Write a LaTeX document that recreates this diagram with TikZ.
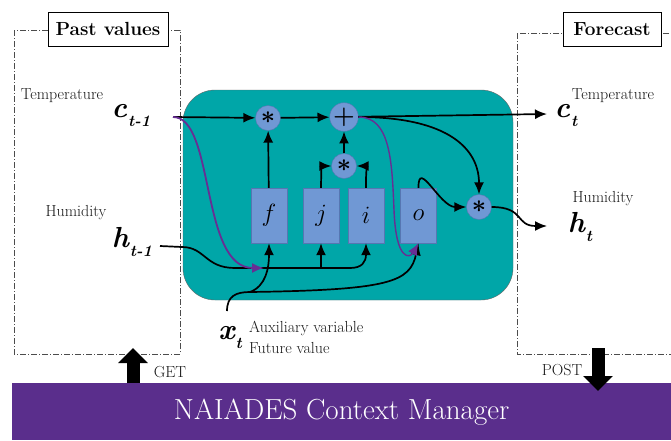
\documentclass[tikz,border=0pt]{standalone}
\usepackage{color}
\usepackage{tikz}
\usepackage{amssymb}
\usetikzlibrary{arrows.meta}

\definecolor{cellteal}{RGB}{0,166,168}
\definecolor{gateblue}{RGB}{112,152,212}
\definecolor{gateedge}{RGB}{86,118,178}
\definecolor{peepviolet}{RGB}{104,46,148}
\definecolor{barpurple}{RGB}{90,46,140}

\newcommand{\subvar}[2]{#1\kern1pt\raisebox{-9pt}{\fontsize{16}{16}\selectfont #2}}

\begin{document}
\begin{tikzpicture}[x=1pt,y=-1pt,>={Latex[length=12pt,width=10pt]}]
        \tikzstyle{every node}=[inner sep=0pt]
        \tikzstyle{gatebox}=[draw=gateedge,fill=gateblue,minimum width=36pt,minimum height=55pt,font=\fontsize{26}{26}\selectfont]
        \tikzstyle{opnode}=[draw=gateedge,fill=gateblue,shape=circle,minimum size=25pt,font=\fontsize{26}{26}\selectfont\boldmath]
        \tikzstyle{flowline}=[line width=1.7pt,->]
        \tikzstyle{peepline}=[line width=1.8pt,->,color=peepviolet]
        \tikzstyle{dashframe}=[draw=black!70,line width=0.6pt,dash pattern=on 6pt off 2pt on 1pt off 2pt]
        \tikzstyle{titlebox}=[draw,fill=white,minimum height=34pt,font=\fontsize{19}{19}\selectfont\bfseries]
        \tikzstyle{sidelabel}=[font=\fontsize{16}{16}\selectfont,color=black!90]
        \tikzstyle{varlabel}=[font=\fontsize{29}{29}\selectfont\bfseries\itshape]
        \tikzstyle{restarrow}=[line width=13pt,-{Triangle[width=29pt,length=15pt]}]

            \useasboundingbox (0,0) rectangle (671,440);
            \fill[white] (0,0) rectangle (671,440);

            % past and forecast frames
            \draw[dashframe] (14,30) rectangle (180,354);
            \draw[dashframe] (517,33) rectangle (690,354);
            \node[titlebox,minimum width=120pt] (past) at (108,29) {Past values};
            \node[titlebox,minimum width=98pt] (forecast) at (612,29) {Forecast};

            % the cell
            \node[draw=black!60,fill=cellteal,rounded corners=32pt,minimum width=330pt,minimum height=210pt] (cell) at (348,195) {};

            \node[opnode] (m1) at (268,118) {$\ast$};
            \node[opnode] (plus) at (344,117) {$+$};
            \node[opnode] (m2) at (344,166) {$\ast$};
            \node[opnode] (m3) at (479,207) {$\ast$};

            \node[gatebox] (f) at (269,215.5) {$f$};
            \node[gatebox] (j) at (321,215.5) {$j$};
            \node[gatebox] (i) at (366,215.5) {$i$};
            \node[gatebox] (o) at (418.5,215.5) {$o$};

            % inputs and outputs
            \node[sidelabel] (tin) at (62,96) {Temperature};
            \node[varlabel] (cprev) at (131,116) {\subvar{c}{t-1}};
            \node[sidelabel] (hum) at (76,213) {Humidity};
            \node[varlabel] (hprev) at (132,242) {\subvar{h}{t-1}};
            \node[varlabel] (xnow) at (230,338) {\subvar{x}{t}};
            \node[sidelabel,anchor=west] (aux) at (249,328) {Auxiliary variable};
            \node[sidelabel,anchor=west] (fut) at (249,348) {Future value};
            \node[sidelabel] (tout) at (613,96) {Temperature};
            \node[varlabel] (cnext) at (566,116) {\subvar{c}{t}};
            \node[sidelabel] (humout) at (603,199) {Humidity};
            \node[varlabel] (hnext) at (580,227) {\subvar{h}{t}};

            \coordinate (cin) at (173,117);
            \coordinate (cout) at (547,114);
            \coordinate (hin) at (160,246);
            \coordinate (hout) at (547,226);
            \coordinate (xin) at (227,311);
            \coordinate (xsplit) at (250,292);
            \coordinate (hjoin) at (321,268);
            \coordinate (peepend) at (264,268);

            \draw[flowline] (cin) -- (m1);
            \draw[flowline] (m1) -- (plus);
            \draw[flowline] (plus) -- (cout);
            \draw[flowline] (f) -- (m1);
            \draw[flowline] (m2) -- (plus);
            \draw[flowline] (j.north) to[out=90,in=180] (m2);
            \draw[flowline] (i.north) to[out=90,in=0] (m2);
            \draw[flowline] (plus.east) .. controls (450,117) and (479,150) .. (m3.north);
            \draw[flowline] (o.north) .. controls (418,158) and (440,207) .. (m3.west);
            \draw[flowline] (m3.east) .. controls (525,207) and (515,226) .. (hout);

            \draw[line width=1.7pt] (hin) -- (182,247) .. controls (205,247) and (205,268) .. (235,268) -- (hjoin) -- (350,268);
            \draw[flowline] (350,268) .. controls (362,268) and (366,262) .. (i.south);
            \draw[flowline] (hjoin) -- (j.south);

            \draw[line width=1.7pt] (xin) .. controls (227,296) and (236,292) .. (xsplit);
            \draw[flowline] (xsplit) .. controls (266,286) and (269,268) .. (f.south);
            \draw[flowline] (xsplit) .. controls (390,290) and (410,282) .. (o.south);

            \draw[peepline] (cin) .. controls (215,117) and (200,268) .. (peepend);
            \draw[peepline,line width=1.4pt] (plus.east) .. controls (390,117) and (392,160) .. (394,210) .. controls (396,262) and (410,258) .. (o.south);

            % context manager
            \node[fill=barpurple,minimum width=659pt,minimum height=57pt,anchor=north west,text=white,font=\fontsize{29}{29}\selectfont] (cm) at (12,383) {NAIADES Context Manager};

            \coordinate (gettip) at (133,348);
            \coordinate (postfrom) at (598,348);
            \draw[restarrow] (cm.north -| gettip) -- (gettip);
            \draw[restarrow] (postfrom) -- ([yshift=-8pt]cm.north -| postfrom);
            \node[sidelabel] (get) at (170,372) {GET};
            \node[sidelabel] (post) at (562,370) {POST};
        \end{tikzpicture}
\end{document}
